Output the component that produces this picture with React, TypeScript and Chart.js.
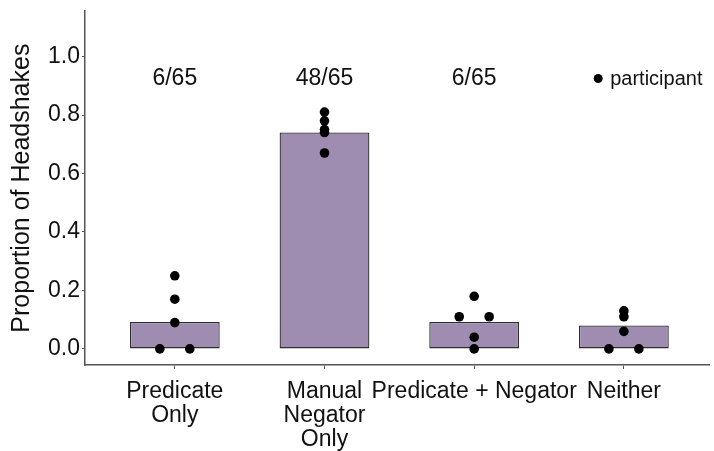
import React, { useEffect, useRef } from "react";
import { Chart, registerables } from "chart.js";

Chart.register(...registerables);

const categories: string[][] = [
  ["Predicate", "Only"],
  ["Manual", "Negator", "Only"],
  ["Predicate + Negator"],
  ["Neither"],
];
const barValues: number[] = [0.092, 0.74, 0.092, 0.08];
const participantValues: number[][] = [
  [0.25, 0.17, 0.09, 0, 0],
  [0.81, 0.78, 0.75, 0.74, 0.67],
  [0.18, 0.11, 0.11, 0.04, 0],
  [0.13, 0.11, 0.06, 0, 0],
];
const countLabels: string[] = ["6/65", "48/65", "6/65", ""];
const countLabelY = 0.925;
const yTicks: number[] = [0, 0.2, 0.4, 0.6, 0.8, 1.0];
const yTitle = "Proportion of Headshakes";
const legendLabel = "participant";

const FONT = "'Liberation Sans', Arial, Helvetica, sans-serif";
const TEXT = "#111111";
const AXIS = "#555555";

function dodgePoints(): { x: number; y: number }[] {
  const pts: { x: number; y: number }[] = [];
  participantValues.forEach((vals, ci) => {
    const groups = new Map<number, number>();
    vals.forEach((v) => groups.set(v, (groups.get(v) || 0) + 1));
    const seen = new Map<number, number>();
    vals.forEach((v) => {
      const n = groups.get(v) || 1;
      const k = seen.get(v) || 0;
      seen.set(v, k + 1);
      const off = (k - (n - 1) / 2) * 0.2;
      pts.push({ x: ci + 1 + off, y: v });
    });
  });
  return pts;
}

const overlayPlugin = {
  id: "overlay",
  afterDatasetsDraw(chart: any) {
    const { ctx, scales, chartArea } = chart;
    const xs = scales.x;
    const ys = scales.y;
    ctx.save();
    ctx.fillStyle = TEXT;
    ctx.font = `23px ${FONT}`;
    ctx.textAlign = "center";
    ctx.textBaseline = "middle";
    countLabels.forEach((t, i) => {
      if (!t) return;
      ctx.fillText(t, xs.getPixelForValue(i + 1), ys.getPixelForValue(countLabelY));
    });
    // legend (inside plot, top-right)
    const ly = ys.getPixelForValue(countLabelY);
    const lx = chartArea.right - 111;
    ctx.beginPath();
    ctx.arc(lx, ly, 4.5, 0, Math.PI * 2);
    ctx.fillStyle = "#000";
    ctx.fill();
    ctx.fillStyle = TEXT;
    ctx.font = `20px ${FONT}`;
    ctx.textAlign = "left";
    ctx.fillText(legendLabel, lx + 12, ly + 1);
    ctx.restore();
  },
};

export default function App() {
  const ref = useRef<HTMLCanvasElement | null>(null);
  useEffect(() => {
    if (!ref.current) return;
    const chart = new Chart(ref.current, {
      type: "bar",
      data: {
        datasets: [
          {
            type: "scatter" as any,
            data: dodgePoints(),
            pointRadius: 4.8,
            pointBackgroundColor: "#000",
            pointBorderWidth: 0,
            borderColor: "#000",
            order: 0,
          } as any,
          {
            type: "bar",
            data: barValues.map((v, i) => ({ x: i + 1, y: v })),
            backgroundColor: "#9e8db0",
            borderColor: "#2e2e2e",
            borderWidth: 1.3,
            borderSkipped: false,
            barPercentage: 0.6,
            categoryPercentage: 1,
            order: 1,
          } as any,
        ],
      },
      options: {
        animation: false,
        responsive: true,
        maintainAspectRatio: false,
        layout: { padding: { top: 10, right: 0, left: 0, bottom: 0 } },
        plugins: { legend: { display: false }, tooltip: { enabled: false } },
        scales: {
          x: {
            type: "linear",
            offset: false,
            min: 0.4,
            max: 4.57,
            afterBuildTicks: (s: any) => {
              s.ticks = categories.map((_, i) => ({ value: i + 1 }));
            },
            afterFit: (s: any) => {
              s.height = 86;
            },
            grid: { offset: false, drawOnChartArea: false, drawTicks: true, tickLength: 4, color: AXIS, lineWidth: 1 },
            border: { display: true, color: AXIS, width: 1.5 },
            ticks: {
              autoSkip: false,
              maxRotation: 0,
              minRotation: 0,
              padding: 10,
              color: TEXT,
              font: { family: FONT, size: 23, lineHeight: 1.06 },
              callback: (v: any) => categories[Math.round(Number(v)) - 1] || "",
            },
          },
          y: {
            type: "linear",
            min: -0.055,
            max: 1.155,
            afterBuildTicks: (s: any) => {
              s.ticks = yTicks.map((v) => ({ value: v }));
            },
            afterFit: (s: any) => {
              s.width = 85;
            },
            grid: { drawOnChartArea: false, drawTicks: true, tickLength: 3, color: AXIS, lineWidth: 1 },
            border: { display: true, color: AXIS, width: 1.5 },
            title: {
              display: true,
              text: yTitle,
              color: TEXT,
              font: { family: FONT, size: 25 },
              padding: { top: 7, bottom: 0 },
            },
            ticks: {
              padding: 2,
              color: TEXT,
              font: { family: FONT, size: 23, lineHeight: 0.8 },
              callback: (v: any) => Number(v).toFixed(1),
            },
          },
        },
      },
      plugins: [overlayPlugin],
    });
    return () => chart.destroy();
  }, []);
  return (
    <div style={{ position: "absolute", left: 0, top: 0, width: 714, height: 451 }}>
      <canvas ref={ref} />
    </div>
  );
}
